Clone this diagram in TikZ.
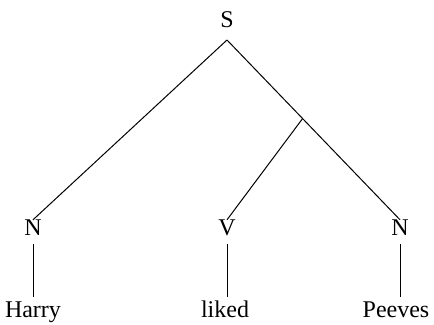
\documentclass[tikz,border=0pt]{standalone}
\usepackage{fontspec}
\setmainfont{Liberation Serif}
\usetikzlibrary{calc}

\begin{document}
\begin{tikzpicture}[
  x=0.5pt,y=-0.5pt,
  font=\fontsize{12}{14.4}\selectfont,
  cat/.style={inner sep=0pt,outer ysep=1.5pt,text height=0.66em,text depth=0pt,anchor=base},
  word/.style={inner sep=0pt,outer ysep=4pt,text height=0.66em,text depth=0pt,anchor=base},
  br/.style={line width=0.5pt},
  stem/.style={line width=0.5pt,shorten <=2.5pt}
]
\useasboundingbox (0,0) rectangle (434,325);

\node[cat] (s)  at (227,28)  {S};
\node[cat] (n1) at (33,236)  {N};
\node[cat] (v)  at (227,236) {V};
\node[cat] (n2) at (400,236) {N};

\node[word] (harry)  at (33,318)  {Harry};
\node[word] (liked)  at (225,318) {liked};
\node[word] (peeves) at (396,318) {Peeves};

\coordinate (top) at ([yshift=-4.5pt]s.south);
\draw[br] (top) -- (n1.north);
\draw[br] (top) -- (n2.north);
\coordinate (vp) at ($(top)!0.437!(n2.north)$);
\draw[br] (vp) -- (v.north);

\draw[stem] (n1.south) -- (n1.south |- harry.north);
\draw[stem] (v.south)  -- (v.south |- liked.north);
\draw[stem] (n2.south) -- (n2.south |- peeves.north);
\end{tikzpicture}
\end{document}
